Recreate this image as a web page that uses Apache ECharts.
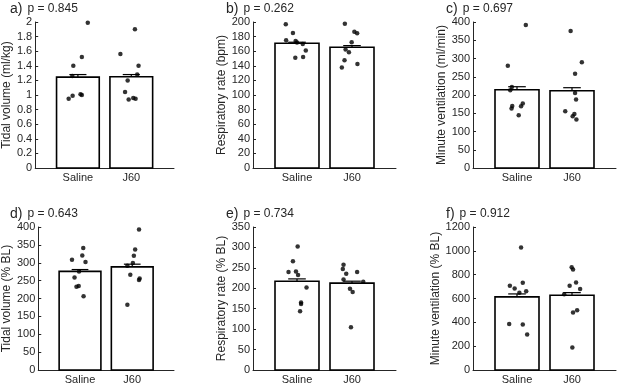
<!DOCTYPE html>
<html lang="en">
  <head>
    <meta charset="UTF-8" />
    <script src="https://cdn.jsdelivr.net/npm/echarts@6/dist/echarts.min.js"></script>
    <title>Ventilation</title>
    <style>
      html, body { margin: 0; padding: 0; background: #fff; }
      #app { width: 617px; height: 385px; }
    </style>
  </head>
  <body>
    <div id="app"></div>
    <script>
      // groups on the x axis
      const groups = ["Saline", "J60"];
      const letters = ["a)", "b)", "c)", "d)", "e)", "f)"];
      const pValues = ["0.845", "0.262", "0.697", "0.643", "0.734", "0.912"];
      const yNames = [
        "Tidal volume (ml/kg)",
        "Respiratory rate (bpm)",
        "Minute ventilation (ml/min)",
        "Tidal volume (% BL)",
        "Respiratory rate (% BL)",
        "Minute ventilation (% BL)",
      ];
      const yMax = [2, 200, 400, 400, 350, 1200];
      const yStep = [0.2, 20, 50, 50, 50, 200];

      // bar height (mean) and upper error (sem) per group
      const means = [
        [1.245, 1.25],
        [170.9, 165.5],
        [214.5, 211.8],
        [275.8, 288.6],
        [217.4, 212.6],
        [613.7, 627.4],
      ];
      const sems = [
        [0.035, 0.03],
        [1.4, 2.2],
        [8.2, 8.2],
        [5.2, 7.4],
        [5.6, 4.8],
        [24.7, 21.9],
      ];

      // individual animals, values
      const salineVals = [
        [1.99, 1.52, 1.40, 1.26, 0.95, 0.99, 1.01, 1.00],
        [197, 185, 175, 174, 172, 170, 161, 151, 152],
        [391.8, 280, 221.8, 212.7, 170, 162.7, 176.4, 169, 144.5],
        [341.6, 320.5, 308.7, 302.3, 275.8, 258.4, 234.7, 232.9, 206.4],
        [302, 266, 239.7, 241.3, 232.5, 202.2, 165.4, 161.4, 143.8],
        [1027, 706.8, 684.9, 731.5, 649.3, 660.3, 386.3, 380.8, 298.6],
      ];
      const j60Vals = [
        [1.90, 1.56, 1.40, 1.28, 1.20, 1.04, 0.94, 0.96, 0.95],
        [197.7, 186.8, 184.5, 172.3, 162.3, 158.6, 147.7, 142.3, 137.7],
        [375.5, 290, 258.2, 205.5, 188, 155.5, 148, 141.8, 132.7],
        [392.7, 337, 319.6, 299.5, 291.3, 266.7, 255.7, 252, 182.6],
        [257.3, 247, 235.7, 239.7, 221.4, 215.8, 199, 191, 104.7],
        [863, 843.8, 734.2, 706.8, 679.5, 635.6, 501.4, 482.2, 189],
      ];
      // horizontal jitter of each point, in group units
      const salineJitter = [
        [0.185, 0.074, -0.086, -0.105, -0.173, -0.099, 0.049, 0.074],
        [-0.204, -0.074, -0.198, -0.025, 0.0, 0.105, 0.16, -0.031, 0.111],
        [0.16, -0.167, -0.093, -0.123, -0.086, -0.099, 0.105, 0.074, 0.031],
        [0.062, 0.043, -0.154, 0.105, -0.019, -0.105, -0.025, -0.068, 0.068],
        [0.012, -0.074, -0.154, -0.019, 0.019, 0.173, 0.074, 0.074, 0.056],
        [0.074, -0.13, -0.043, 0.105, 0.043, 0.167, -0.142, 0.105, 0.185],
      ];
      const j60Jitter = [
        [0.068, -0.204, 0.136, 0.111, -0.068, -0.117, -0.049, 0.037, 0.08],
        [-0.13, 0.043, 0.093, -0.006, -0.117, -0.056, -0.136, 0.099, -0.185],
        [-0.025, 0.179, 0.056, 0.056, 0.074, -0.123, 0.043, 0.012, 0.08],
        [0.13, 0.056, 0.031, 0.012, -0.093, -0.037, 0.142, 0.13, -0.093],
        [-0.154, -0.167, -0.105, 0.093, -0.154, 0.204, -0.037, 0.012, -0.019],
        [-0.006, 0.019, 0.074, -0.043, 0.148, -0.142, 0.093, 0.019, 0.006],
      ];

      const ink = "#262626";
      const lefts = [31, 253, 473];
      const tops = [22, 227];
      const titleLefts = [10, 226, 446];
      const titleTops = [0, 205];
      const nameGaps = [20, 23, 21, 21, 21, 21];

      const chart = echarts.init(document.getElementById("app"));

      const grid = [], xAxis = [], yAxis = [], series = [], title = [];
      for (let i = 0; i < 6; i++) {
        const col = i % 3, row = Math.floor(i / 3);
        grid.push({ left: lefts[col], top: tops[row], width: 143, height: 146 });
        title.push({
          text: "{l|" + letters[i] + "} {p|p = " + pValues[i] + "}",
          left: titleLefts[col],
          top: titleTops[row],
          padding: 0,
          textStyle: {
            fontWeight: "normal",
            rich: {
              l: { fontSize: 14, fontWeight: "normal", color: ink, fontFamily: "Liberation Sans" },
              p: { fontSize: 12, fontWeight: "normal", color: ink, fontFamily: "Liberation Sans" },
            },
          },
        });
        xAxis.push({
          gridIndex: i,
          type: "value",
          min: 0.2,
          max: 2.8,
          splitLine: { show: false },
          axisLine: { lineStyle: { color: ink, width: 1 } },
          axisTick: { show: true, inside: true, length: 3, customValues: [1, 2], lineStyle: { color: ink } },
          axisLabel: {
            customValues: [1, 2],
            formatter: (v) => groups[Math.round(v) - 1],
            color: ink,
            fontSize: 11,
            margin: 4,
            fontFamily: "Liberation Sans",
          },
        });
        yAxis.push({
          gridIndex: i,
          type: "value",
          min: 0,
          max: yMax[i],
          interval: yStep[i],
          name: yNames[i],
          nameLocation: "middle",
          nameGap: nameGaps[i],
          nameTextStyle: { fontSize: 12, color: ink, fontFamily: "Liberation Sans" },
          splitLine: { show: false },
          axisLine: { show: true, lineStyle: { color: ink, width: 1 } },
          axisTick: { show: true, inside: true, length: 3, lineStyle: { color: ink } },
          axisLabel: {
            color: ink,
            fontSize: 11,
            margin: 3,
            fontFamily: "Liberation Sans",
            formatter: (v) => String(v),
          },
        });

        // bars with upper error bar
        series.push({
          type: "custom",
          xAxisIndex: i,
          yAxisIndex: i,
          z: 2,
          data: [
            [1, means[i][0], sems[i][0]],
            [2, means[i][1], sems[i][1]],
          ],
          renderItem: (params, api) => {
            const x = api.value(0), m = api.value(1), s = api.value(2);
            const p0 = api.coord([x - 0.4, 0]);
            const p1 = api.coord([x + 0.4, m]);
            const top = api.coord([x, m + s]);
            const cl = api.coord([x - 0.16, m + s]);
            const cr = api.coord([x + 0.16, m + s]);
            const mid = api.coord([x, m]);
            return {
              type: "group",
              children: [
                {
                  type: "rect",
                  shape: { x: p0[0], y: p1[1], width: p1[0] - p0[0], height: p0[1] - p1[1] },
                  style: { fill: "#fff", stroke: "#000", lineWidth: 1.6 },
                },
                {
                  type: "line",
                  shape: { x1: mid[0], y1: mid[1], x2: top[0], y2: top[1] },
                  style: { stroke: "#000", lineWidth: 1.2 },
                },
                {
                  type: "line",
                  shape: { x1: cl[0], y1: cl[1], x2: cr[0], y2: cr[1] },
                  style: { stroke: "#000", lineWidth: 1.2 },
                },
              ],
            };
          },
        });

        const pts = [];
        salineVals[i].forEach((v, k) => pts.push([1 + salineJitter[i][k], v]));
        j60Vals[i].forEach((v, k) => pts.push([2 + j60Jitter[i][k], v]));
        series.push({
          type: "scatter",
          xAxisIndex: i,
          yAxisIndex: i,
          z: 3,
          symbolSize: 4.5,
          itemStyle: { color: "#000" },
          data: pts,
        });
      }

      chart.setOption({ animation: false, title, grid, xAxis, yAxis, series });
    </script>
  </body>
</html>
